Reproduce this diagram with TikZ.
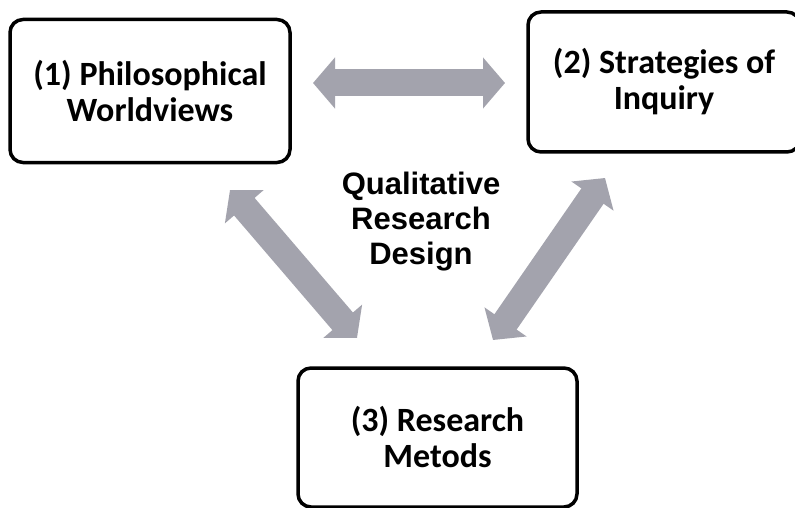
\documentclass[tikz,border=0pt]{standalone}
\usepackage{fontspec}
\usepackage{tikz}
\usetikzlibrary{arrows.meta}
\newfontfamily\boxfont{Carlito}
\newfontfamily\midfont{Liberation Sans}
\definecolor{arrowgray}{RGB}{163,163,173}

\tikzset{
  stage/.style={draw, line width=3.5pt, rounded corners=13pt, align=center,
    font={\boxfont\bfseries\fontsize{34}{36}\selectfont}},
  twoway/.style={arrowgray, line width=27pt,
    {Triangle[length=22pt,width=50pt]}-{Triangle[length=22pt,width=50pt]}}
}

\begin{document}
\begin{tikzpicture}[x=1pt,y=-1pt]
\useasboundingbox (0,0) rectangle (795,508);

\node[stage, minimum width=280pt, minimum height=143pt] (worldviews) at (150,91) {(1) Philosophical\\Worldviews};
\node[stage, minimum width=272pt, minimum height=140pt] (inquiry) at (664,82) {(2) Strategies of\\Inquiry};
\node[stage, minimum width=279pt, minimum height=139pt] (methods) at (437.5,437.5) {(3) Research\\Metods};
\node[align=center, font={\midfont\bfseries\fontsize{31}{35}\selectfont}] (design) at (421,222) {Qualitative\\Research\\Design};

\coordinate (wvright) at (313,83);
\coordinate (inqleft) at (505,83);
\coordinate (wvlow) at (230,190);
\coordinate (methupl) at (357,338);
\coordinate (inqlow) at (605,178);
\coordinate (methupr) at (493,340);

\foreach \from/\to in {wvright/inqleft, wvlow/methupl, inqlow/methupr}
	\draw[twoway] (\from) -- (\to);

\end{tikzpicture}
\end{document}
